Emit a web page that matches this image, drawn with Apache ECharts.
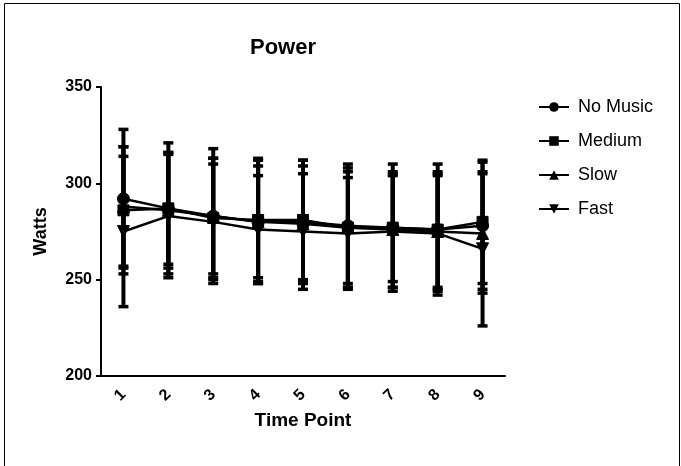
<!DOCTYPE html>
<html>
<head>
    <meta charset="UTF-8">
    <title>Power</title>
    <script src="https://cdn.jsdelivr.net/npm/echarts@6/dist/echarts.min.js"></script>
    <style>
        html, body { margin: 0; padding: 0; background: #fff; }
        #chart { width: 681px; height: 466px; }
    </style>
</head>
<body>
    <div id="chart"></div>
    <script>
        // time points on the x axis
        const timePoints = ['1', '2', '3', '4', '5', '6', '7', '8', '9'];
        const seriesNames = ['No Music', 'Medium', 'Slow', 'Fast'];

        // mean power (watts)
        const noMusic = [292, 287, 283, 280, 280, 278, 277, 276, 278];
        const medium  = [286, 287, 282, 281, 281, 277, 277, 276, 280];
        const slow    = [288, 286, 283, 280, 279, 277, 276, 275, 274];
        const fast    = [275, 283, 280, 276, 275, 274, 275, 274, 266];

        // standard deviations (error bars)
        const noMusicSd = [36, 29, 35, 32, 32, 32, 33, 34, 33];
        const mediumSd  = [33, 34, 31, 32, 31, 31, 28, 30, 32];
        const slowSd    = [31, 30, 30, 29, 30, 29, 30, 30, 31];
        const fastSd    = [39, 32, 30, 28, 30, 29, 29, 30, 40];

        const yTicks = [200, 250, 300, 350];

        const means = [noMusic, medium, slow, fast];
        const sds = [noMusicSd, mediumSd, slowSd, fastSd];
        const symbols = ['circle', 'rect', 'triangle', 'triangle'];
        const rotations = [0, 0, 0, 180];
        const sizes = [12, 11, 12, 12];
        const font = 'Liberation Sans, Arial, sans-serif';

        function errorItem(params, api) {
            const lo = api.coord([api.value(0), api.value(1)]);
            const hi = api.coord([api.value(0), api.value(2)]);
            const cap = 5;
            return {
                type: 'group',
                children: [
                    { type: 'line', shape: { x1: lo[0], y1: lo[1], x2: hi[0], y2: hi[1] },
                      style: { stroke: '#000', lineWidth: 4 } },
                    { type: 'line', shape: { x1: lo[0] - cap, y1: lo[1], x2: lo[0] + cap, y2: lo[1] },
                      style: { stroke: '#000', lineWidth: 3.5 } },
                    { type: 'line', shape: { x1: hi[0] - cap, y1: hi[1], x2: hi[0] + cap, y2: hi[1] },
                      style: { stroke: '#000', lineWidth: 3.5 } }
                ]
            };
        }

        const series = [];
        seriesNames.forEach((name, i) => {
            series.push({
                name: name + ' SD',
                type: 'custom',
                renderItem: errorItem,
                z: 1,
                silent: true,
                data: means[i].map((m, j) => [j, m - sds[i][j], m + sds[i][j]])
            });
        });
        seriesNames.forEach((name, i) => {
            series.push({
                name: name,
                type: 'line',
                data: means[i],
                symbol: symbols[i],
                symbolSize: sizes[i],
                symbolRotate: rotations[i],
                showAllSymbol: true,
                z: 3,
                lineStyle: { color: '#000', width: 2.5 },
                itemStyle: { color: '#000', borderColor: '#000' }
            });
        });

        const chart = echarts.init(document.getElementById('chart'));
        chart.setOption({
            animation: false,
            backgroundColor: '#fff',
            textStyle: { fontFamily: font, color: '#000' },
            title: {
                text: 'Power',
                left: 245,
                top: 32,
                textStyle: { fontSize: 22, fontWeight: 'bold', color: '#000', fontFamily: font }
            },
            legend: {
                data: seriesNames,
                orient: 'vertical',
                left: 533,
                top: 93,
                itemWidth: 30,
                itemHeight: 12,
                itemGap: 16,
                textStyle: { fontSize: 18, color: '#000', fontFamily: font, padding: [0, 0, 0, 4] }
            },
            graphic: [{
                type: 'rect',
                shape: { x: 4.5, y: 3.5, width: 675, height: 470 },
                style: { fill: 'none', stroke: '#000', lineWidth: 1 },
                silent: true
            }],
            grid: { left: 101, right: 176, top: 87, bottom: 90 },
            xAxis: {
                type: 'category',
                data: timePoints,
                boundaryGap: true,
                name: 'Time Point',
                nameLocation: 'middle',
                nameGap: 30,
                nameTextStyle: { fontSize: 19, fontWeight: 'bold', color: '#000' },
                axisLine: { lineStyle: { color: '#000', width: 2 } },
                axisTick: { alignWithLabel: true, length: 5, lineStyle: { color: '#000', width: 2 } },
                axisLabel: { rotate: 45, fontSize: 16, fontWeight: 'bold', color: '#000', margin: 16 }
            },
            yAxis: {
                type: 'value',
                min: yTicks[0],
                max: yTicks[yTicks.length - 1],
                interval: 50,
                name: 'Watts',
                nameLocation: 'middle',
                nameRotate: 90,
                nameGap: 51,
                nameTextStyle: { fontSize: 18, fontWeight: 'bold', color: '#000' },
                splitLine: { show: false },
                axisLine: { show: true, lineStyle: { color: '#000', width: 2 } },
                axisTick: { show: true, length: 5, lineStyle: { color: '#000', width: 2 } },
                axisLabel: { fontSize: 16, fontWeight: 'bold', color: '#000', margin: 9 }
            },
            series: series
        });
    </script>
</body>
</html>
